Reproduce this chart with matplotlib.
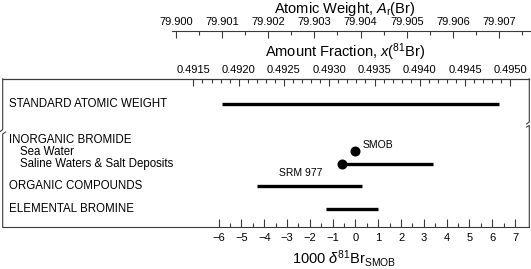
import matplotlib.pyplot as plt
from matplotlib.lines import Line2D
from matplotlib.ticker import FixedLocator, FixedFormatter

plt.rcParams['font.family'] = ['Liberation Sans', 'DejaVu Sans']
plt.rcParams['mathtext.fontset'] = 'custom'
plt.rcParams['mathtext.rm'] = 'Liberation Sans'
plt.rcParams['mathtext.it'] = 'Liberation Sans:italic'
plt.rcParams['mathtext.bf'] = 'Liberation Sans:bold'

# row labels, top to bottom
row_labels = ["STANDARD ATOMIC WEIGHT", "INORGANIC BROMIDE", "Sea Water",
              "Saline Waters & Salt Deposits", "ORGANIC COMPOUNDS", "ELEMENTAL BROMINE"]
row_indent = [False, False, True, True, False, False]

# ranges in 1000 delta81Br (SMOB)
std_weight_range = [-5.85, 6.3]
saline_range = [-0.6, 3.4]
organic_range = [-4.3, 0.3]
elemental_range = [-1.3, 1.0]
smob_delta = 0.0
srm977_delta = -0.6

delta_ticks = list(range(-6, 8))
delta_minor = [d + 0.5 for d in range(-6, 7)]
fraction_ticks = [0.4915, 0.4920, 0.4925, 0.4930, 0.4935, 0.4940, 0.4945, 0.4950]
fraction_minor = [0.4915 + 0.0001 * i for i in range(36)]
weight_ticks = [79.900, 79.901, 79.902, 79.903, 79.904, 79.905, 79.906, 79.907]
weight_minor = [79.9005 + 0.001 * i for i in range(8)]

# linear conversions from delta to the other scales
X0, KX = 0.49329, 0.0002518
A0, KA = 79.90389, 0.000494

W, H = 531, 269
ZERO_PX, PX_PER = 355.5, 22.8
LINE_COL = '#3a3a3a'


def px2d(px):
    return (px - ZERO_PX) / PX_PER


def box(l, t, r, b):
    return [l / W, 1 - b / H, (r - l) / W, (b - t) / H]


def fig_line(xs, ys):
    fig.add_artist(Line2D([x / W for x in xs], [1 - y / H for y in ys],
                          transform=fig.transFigure, color=LINE_COL, lw=0.8))


fig = plt.figure(figsize=(W / 100, H / 100), dpi=100)

BL, BT, BR, BB = 2.7, 78.8, 529.3, 227.3
ax = fig.add_axes(box(BL, BT, BR, BB))
ax.set_xlim(px2d(BL), px2d(BR))
ax.set_ylim(BB - BT, 0)
for s in ['left', 'right']:
    ax.spines[s].set_visible(False)
for s in ['top', 'bottom']:
    ax.spines[s].set_color(LINE_COL)
    ax.spines[s].set_linewidth(0.8)
ax.set_yticks([])

ax.xaxis.set_major_locator(FixedLocator(delta_ticks))
ax.xaxis.set_minor_locator(FixedLocator(delta_minor))
ax.xaxis.set_major_formatter(FixedFormatter(['\u2212%d' % -d if d < 0 else str(d) for d in delta_ticks]))
ax.tick_params(axis='x', which='both', direction='in', color=LINE_COL, width=0.8, labelsize=8)
ax.tick_params(axis='x', which='major', length=6, pad=4)
ax.tick_params(axis='x', which='minor', length=3)

# amount fraction scale on top of the box
sec = ax.secondary_xaxis('top', functions=(lambda d: X0 + KX * d, lambda x: (x - X0) / KX))
sec.xaxis.set_major_locator(FixedLocator(fraction_ticks))
sec.xaxis.set_minor_locator(FixedLocator(fraction_minor))
sec.xaxis.set_major_formatter(FixedFormatter(['%.4f' % v for v in fraction_ticks]))
sec.tick_params(axis='x', which='both', direction='in', color=LINE_COL, width=0.8, labelsize=8)
sec.tick_params(axis='x', which='major', length=5, pad=3)
sec.tick_params(axis='x', which='minor', length=3)
sec.spines['top'].set_color(LINE_COL)
sec.spines['top'].set_linewidth(0.8)

# atomic weight scale, separate axis above (its top spine is the scale line)
AL, AR, AY = 172, 531, 31
aw = fig.add_axes(box(AL, AY, AR, AY + 10))
aw.set_xlim(A0 + KA * px2d(AL), A0 + KA * px2d(AR))
aw.set_ylim(0, 1)
for s in ['left', 'right', 'bottom']:
    aw.spines[s].set_visible(False)
aw.spines['top'].set_color(LINE_COL)
aw.spines['top'].set_linewidth(0.8)
aw.patch.set_visible(False)
aw.set_yticks([])
aw.xaxis.set_ticks_position('top')
aw.xaxis.set_major_locator(FixedLocator(weight_ticks))
aw.xaxis.set_minor_locator(FixedLocator(weight_minor))
aw.xaxis.set_major_formatter(FixedFormatter(['%.3f' % v for v in weight_ticks]))
aw.tick_params(axis='x', which='both', direction='in', color=LINE_COL, width=0.8,
               labelsize=8, labelbottom=False, labeltop=True, bottom=False)
aw.tick_params(axis='x', which='major', length=5, pad=3)
aw.tick_params(axis='x', which='minor', length=3)

# rows
row_y = [25.3, 61.3, 73.3, 85.3, 107.3, 130.3]
for lab, y, ind in zip(row_labels, row_y, row_indent):
    ax.text(px2d(20 if ind else 9), y, lab, fontsize=8.3, va='center', ha='left')

lw = 2.4
ax.plot(std_weight_range, [row_y[0]] * 2, color='black', lw=lw, solid_capstyle='butt')
ax.plot(saline_range, [row_y[3]] * 2, color='black', lw=lw, solid_capstyle='butt')
ax.plot(organic_range, [row_y[4]] * 2, color='black', lw=lw, solid_capstyle='butt')
ax.plot(elemental_range, [row_y[5]] * 2, color='black', lw=lw, solid_capstyle='butt')
ax.plot([smob_delta], [row_y[2] - 0.8], 'o', color='black', ms=6.2)
ax.plot([srm977_delta], [row_y[3]], 'o', color='black', ms=6.2)
ax.text(smob_delta + 0.3, row_y[2] - 7, 'SMOB', fontsize=7.5, ha='left', va='center')
ax.text(srm977_delta - 1.8, row_y[3] + 9, 'SRM 977', fontsize=7.5, ha='center', va='center')

# broken side spines
fig_line([BL, BL, 0.3], [BT, 129.5, 131.5])
fig_line([5.5, BL, BL], [132, 134, BB])
fig_line([BR, BR, 526.5], [BT, 122, 124])
fig_line([526.5, BR, BR], [127, 125.5, BB])

# axis titles
fig.text(345 / W, 1 - 12.5 / H, 'Atomic Weight, $A_\\mathrm{r}$(Br)', fontsize=10.5, ha='center', va='baseline')
fig.text(345 / W, 1 - 57 / H, 'Amount Fraction, $x$($^{81}$Br)', fontsize=10.5, ha='center', va='baseline')
fig.text(344 / W, 1 - 264 / H, '1000 $\\delta^{81}$Br$_\\mathrm{SMOB}$', fontsize=10.5, ha='center', va='baseline')

fig.savefig('out.png', dpi=100)
